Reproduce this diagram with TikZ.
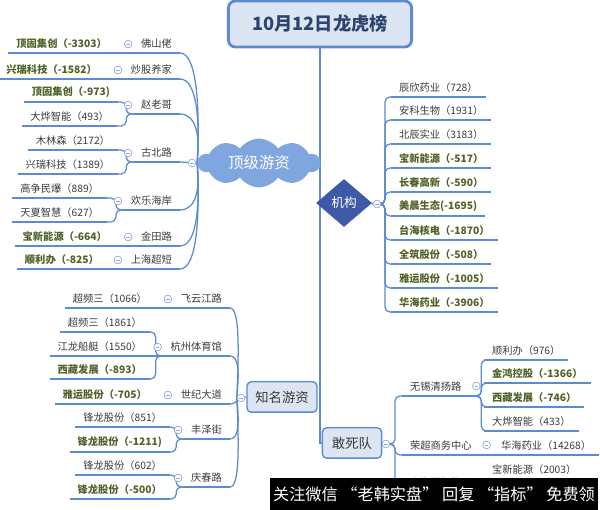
\documentclass[tikz,border=0pt]{standalone}
\usepackage{fontspec}
\setmainfont{Noto Sans CJK SC}
\usepackage{tikz}
\usetikzlibrary{shapes.geometric,shapes.symbols,backgrounds}
\definecolor{linecol}{HTML}{5B8BD0}
\definecolor{boxfill}{HTML}{DCE6F2}
\definecolor{cloudcol}{HTML}{7FA6DE}
\definecolor{jgcol}{HTML}{3E5AA6}
\definecolor{titlecol}{HTML}{2E4470}
\definecolor{txtcol}{HTML}{3A3A3A}
\definecolor{negcol}{HTML}{4F6228}
\definecolor{markcol}{HTML}{8EA9D8}
\newcommand{\leaffont}{\fontsize{7.3}{8.5}\selectfont}

\begin{document}
\begin{tikzpicture}[x=0.025cm,y=-0.025cm,
  uline/.style={append after command={(\tikzlastnode.south west) edge[draw=linecol,line width=1.3pt] (\tikzlastnode.south east)}},
  leaf/.style={uline,inner xsep=5.5pt,inner ysep=3pt,font=\leaffont,text=txtcol},
  neg/.style={leaf,font=\leaffont\bfseries,text=negcol},
  topic/.style={leaf},
  fold/.style={circle,draw=markcol,fill=white,line width=0.5pt,minimum size=5.5pt,inner sep=0pt,
    path picture={\draw[markcol,line width=0.5pt] ([xshift=-1.3pt]path picture bounding box.center)--([xshift=1.3pt]path picture bounding box.center);}},
  branch/.style={draw=linecol,line width=0.9pt},
  elbow/.style={branch,rounded corners=3.5pt},
  trunk/.style={draw=linecol,line width=1.1pt},
  root/.style={draw=linecol,line width=2pt,rounded corners=5pt,fill=boxfill,minimum width=4.58cm,minimum height=1.15cm,font=\fontsize{13}{15}\selectfont\bfseries,text=titlecol},
  cloudbox/.style={cloud,cloud puffs=10,cloud puff arc=110,aspect=2.4,fill=cloudcol,minimum width=3.05cm,minimum height=1.15cm,inner sep=0pt,text=white,font=\fontsize{11}{13}\selectfont},
  jgbox/.style={diamond,fill=jgcol,minimum width=1.4cm,minimum height=1.2cm,inner sep=0pt,text=white,font=\fontsize{9}{11}\selectfont},
  subbox/.style={draw=linecol,line width=1pt,rounded corners=3pt,fill=boxfill,minimum height=0.76cm,font=\fontsize{9.5}{11}\selectfont,text=txtcol},
  wmbar/.style={fill=black,text=white,minimum width=8.2cm,minimum height=0.8cm,inner sep=0pt,font=\fontsize{11.5}{13}\selectfont}]
  \useasboundingbox (0,0) rectangle (600,510);

  % main topics
  \node[root] (root) at (320,24) {10月12日龙虎榜};
  \node[cloudbox] (yz) at (259,163) {顶级游资};
  \node[jgbox] (jg) at (344,203) {机构};
  \node[subbox,minimum width=1.75cm] (zm) at (282,397) {知名游资};
  \node[subbox,minimum width=1.48cm] (gs) at (352,443) {敢死队};
  \node[fold] (yz-m) at (192,163) {};
  \node[fold] (jg-m) at (377,204) {};
  \node[fold] (zm-m) at (241,398) {};
  \node[fold] (gs-m) at (386,444) {};

  % 顶级游资
  \node[topic,anchor=south east] (fs) at (180,53) {佛山佬};
  \node[topic,anchor=south east] (cg) at (180,79) {炒股养家};
  \node[topic,anchor=south east] (zl) at (180,114) {赵老哥};
  \node[topic,anchor=south east] (gb) at (180,162) {古北路};
  \node[topic,anchor=south east] (hl) at (180,210) {欢乐海岸};
  \node[topic,anchor=south east] (jt) at (180,246) {金田路};
  \node[topic,anchor=south east] (shc) at (180,269) {上海超短};
  \node[neg,anchor=south east] (fs1) at (115,53) {顶固集创（-3303）};
  \node[neg,anchor=south east] (cg1) at (105,79) {兴瑞科技（-1582）};
  \node[neg,anchor=south east] (zl1) at (118,102) {顶固集创（-973)};
  \node[leaf,anchor=south east] (zl2) at (117,126) {大烨智能（493）};
  \node[leaf,anchor=south east] (gb1) at (118,150) {木林森（2172）};
  \node[leaf,anchor=south east] (gb2) at (118,174) {兴瑞科技（1389）};
  \node[leaf,anchor=south east] (hl1) at (107,198) {高争民爆（889）};
  \node[leaf,anchor=south east] (hl2) at (107,222) {天夏智慧（627）};
  \node[neg,anchor=south east] (jt1) at (115,246) {宝新能源（-664）};
  \node[neg,anchor=south east] (sh1) at (107,269) {顺利办（-825）};

  % 机构
  \node[leaf,anchor=south west] (j1) at (391,97) {辰欣药业（728）};
  \node[leaf,anchor=south west] (j2) at (391,120) {安科生物（1931）};
  \node[leaf,anchor=south west] (j3) at (391,144) {北辰实业（3183）};
  \node[neg,anchor=south west] (j4) at (391,168) {宝新能源（-517）};
  \node[neg,anchor=south west] (j5) at (391,192) {长春高新（-590）};
  \node[neg,anchor=south west] (j6) at (391,216) {美晨生态(-1695)};
  \node[neg,anchor=south west] (j7) at (391,240) {台海核电（-1870）};
  \node[neg,anchor=south west] (j8) at (391,264) {全筑股份（-508）};
  \node[neg,anchor=south west] (j9) at (391,288) {雅运股份（-1005）};
  \node[neg,anchor=south west] (j10) at (391,312) {华海药业（-3906）};

  % 知名游资
  \node[topic,anchor=south east] (fy) at (230,308) {飞云江路};
  \node[topic,anchor=south east] (hz) at (230,356) {杭州体育馆};
  \node[topic,anchor=south east] (sj) at (230,404) {世纪大道};
  \node[topic,anchor=south east] (fz) at (230,439) {丰泽街};
  \node[topic,anchor=south east] (qc) at (230,487) {庆春路};
  \node[leaf,anchor=south east] (fy1) at (155,308) {超频三（1066）};
  \node[leaf,anchor=south east] (hz1) at (150,332) {超频三（1861）};
  \node[leaf,anchor=south east] (hz2) at (150,356) {江龙船艇（1550）};
  \node[neg,anchor=south east] (hz3) at (150,379) {西藏发展（-893）};
  \node[neg,anchor=south east] (sj1) at (155,404) {雅运股份（-705）};
  \node[leaf,anchor=south east] (fz1) at (170,427) {锋龙股份（851）};
  \node[neg,anchor=south east] (fz2) at (170,452) {锋龙股份（-1211)};
  \node[leaf,anchor=south east] (qc1) at (170,475) {锋龙股份（602）};
  \node[neg,anchor=south east] (qc2) at (170,499) {锋龙股份（-500）};

  % 敢死队
  \node[topic,anchor=south west] (wx) at (402,396) {无锡清扬路};
  \node[topic,anchor=south west] (rc) at (402,455) {荣超商务中心};
  \node[topic,anchor=south west] (sl) at (402,492) {上海溧阳路};
  \node[leaf,anchor=south west] (w1) at (484,360) {顺利办（976）};
  \node[neg,anchor=south west] (w2) at (484,383) {金鸿控股（-1366）};
  \node[neg,anchor=south west] (w3) at (484,407) {西藏发展（-746）};
  \node[leaf,anchor=south west] (w4) at (484,431) {大烨智能（433）};
  \node[leaf,anchor=south west] (r1) at (493,455) {华海药业（14268）};
  \node[leaf,anchor=south west] (s1) at (484,479) {宝新能源（2003）};

  \foreach \n in {fs,cg,zl,gb,hl,jt,shc,fy,hz,sj,fz,qc}
    \node[fold] (\n-m) at ([shift={(-5,-9)}]\n.south west) {};
  \foreach \n in {wx,rc,sl}
    \node[fold] (\n-m) at ([shift={(7,-10)}]\n.south east) {};

  \begin{scope}[on background layer]
    \draw[trunk] (root.south) |- (gs.west);
    % 顶级游资
    \draw[branch] (yz-m) -- (yz.west);
    \foreach \n/\d in {fs/-55,cg/-42,zl/-25,hl/24,jt/42,shc/53}
      \draw[branch] (yz.west) .. controls +(3,\d) and +(17,0) .. (\n.south east);
    \draw[branch] (yz.west) -- (gb.south east);
    \foreach \p/\c in {fs/fs1,cg/cg1,jt/jt1,shc/sh1,fy/fy1,sj/sj1,hz/hz2}
      \draw[branch] (\p.south west) -- (\c.south east);
    \foreach \p/\c in {zl/zl1,zl/zl2,gb/gb1,gb/gb2,hl/hl1,hl/hl2,hz/hz1,hz/hz3,fz/fz1,fz/fz2,qc/qc1,qc/qc2}
      \draw[elbow] (\p.south west) -- ++(-7,0) |- (\c.south east);
    % 机构
    \draw[branch] (jg) -- (jg-m);
    \foreach \c in {j1,j2,j3,j4,j5,j6,j7,j8,j9,j10}
      \draw[elbow] (jg-m.center) -- ++(8,0) |- (\c.south west);
    % 知名游资
    \draw[branch] (zm-m) -- (zm.west);
    \foreach \n/\d/\h in {fy/-45/10,hz/-21/10,sj/3/4,fz/20/10,qc/44/10}
      \draw[branch] (zm-m.west) .. controls +(2,\d) and +(\h,0) .. (\n.south east);
    % 敢死队
    \draw[branch] (gs) -- (gs-m);
    \foreach \c in {wx,rc,sl}
      \draw[elbow] (gs-m.center) -- ++(9,0) |- (\c.south west);
    \foreach \c in {w1,w2,w3,w4}
      \draw[elbow] (wx.south east) -- ++(12,0) |- (\c.south west);
    \draw[branch] (rc.south east) -- (r1.south west);
    \draw[elbow] (sl.south east) -- ++(12,0) |- (s1.south west);
  \end{scope}

  \node[wmbar] (wm) at (434,494) {关注微信 “老韩实盘” 回复 “指标” 免费领};
\end{tikzpicture}
\end{document}
